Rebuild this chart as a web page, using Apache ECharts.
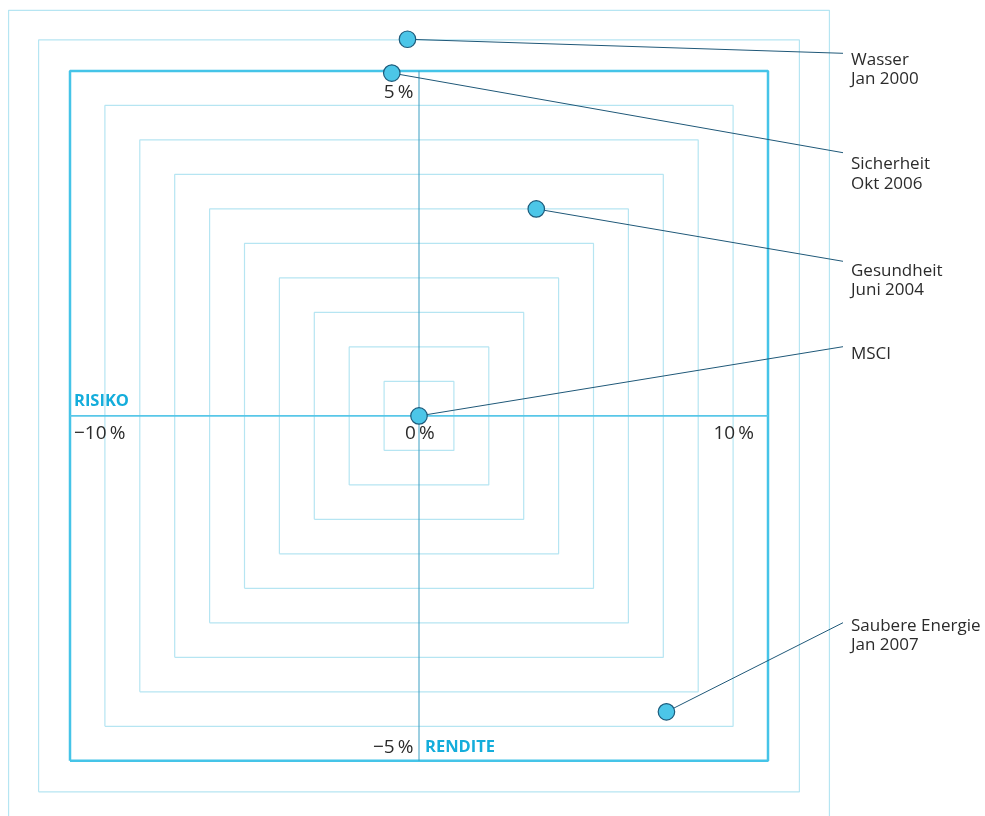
<!DOCTYPE html>
<html><head><meta charset="utf-8">
<script src="https://cdn.jsdelivr.net/npm/echarts@6/dist/echarts.min.js"></script>
<style>html,body{margin:0;padding:0;background:#fff}#c{width:985px;height:816px}</style>
</head><body><div id="c"></div>
<script>
// ---- data ----
const themes = ['Wasser', 'Sicherheit', 'Gesundheit', 'MSCI', 'Saubere Energie'];
const startDates = ['Jan 2000', 'Okt 2006', 'Juni 2004', '', 'Jan 2007'];
const risk = [-0.33, -0.78, 3.36, 0, 7.09];
const rendite = [5.46, 4.97, 3.0, 0, -4.29];
const riskTicks = [-10, 0, 10];
const riskTickLabels = ['\u221210\u2009%', '0\u2009%', '10\u2009%'];
const renditeTicks = [5, -5];
const renditeTickLabels = ['5\u2009%', '\u22125\u2009%'];
const squareLevels = [1, 2, 3, 4, 5, 6, 7, 8, 9, 10, 10.9, 11.76]; // risk half-width; rendite half-height = level/2
const axisNames = ['RISIKO', 'RENDITE'];

// ---- layout / styles ----
const LIGHT = '#b6e5f2', THICK = '#45c4e8', CYAN_TEXT = '#14addb', TEXT = '#2b2b2b', NAVY = '#1f5878';
const FONT = '"Open Sans", Roboto, sans-serif';
const calloutAnchorX = 843, calloutTextX = 851;
const calloutAnchorY = [53.3, 152.7, 261.3, 346.7, 622.7];
const calloutTextY = [60, 164.3, 271, 354.3, 626]; // cap-centre of first line

const chart = echarts.init(document.getElementById('c'));

const squareSeries = squareLevels.map(l => ({
  type: 'line', silent: true, clip: false, symbol: 'none', z: 1, animation: false,
  data: [[-l, -l / 2], [l, -l / 2], [l, l / 2], [-l, l / 2], [-l, -l / 2]],
  lineStyle: { color: l === 10 ? THICK : LIGHT, width: l === 10 ? 2.5 : 1.2 }
}));

const rMin = riskTicks[0], rMax = riskTicks[riskTicks.length - 1];
const yMax = Math.max(...renditeTicks), yMin = Math.min(...renditeTicks);

chart.setOption({
  animation: false,
  grid: { left: 0.2, top: 2, width: 837.6, height: 814 },
  xAxis: { type: 'value', min: -12, max: 12, show: false, splitLine: { show: false } },
  yAxis: { type: 'value', min: -5.8, max: 6, show: false, splitLine: { show: false } },
  series: [
    ...squareSeries,
    { // horizontal axis line (RISIKO)
      type: 'line', silent: true, symbol: 'none', z: 2, clip: false,
      data: [[rMin, 0], [rMax, 0]], lineStyle: { color: '#58c7e8', width: 1.6 }
    },
    { // vertical axis line (RENDITE)
      type: 'line', silent: true, symbol: 'none', z: 2, clip: false,
      data: [[0, yMin], [0, yMax]], lineStyle: { color: '#3a9ec2', width: 1 }
    },
    {
      type: 'scatter', z: 5, symbolSize: 16.5, clip: false,
      data: risk.map((r, i) => ({ name: themes[i], value: [r, rendite[i]] })),
      itemStyle: { color: '#4cc6e8', borderColor: '#1d5a7a', borderWidth: 1.2, opacity: 1 }
    }
  ]
});

const P = (x, y) => chart.convertToPixel({ gridIndex: 0 }, [x, y]);
const g = [];
const txt = (x, y, text, opts) => g.push({
  type: 'text', x, y, z: 10,
  style: Object.assign({ text, fill: TEXT, fontFamily: FONT, fontSize: 19, align: 'left', verticalAlign: 'middle' }, opts || {})
});

// risk tick labels (below horizontal axis)
const riskTickPos = [{ dx: 4, align: 'left' }, { dx: -14, align: 'left' }, { dx: -14, align: 'right' }];
riskTicks.forEach((t, i) => {
  const p = P(t, 0);
  txt(p[0] + riskTickPos[i].dx, p[1] + 17.5, riskTickLabels[i], { align: riskTickPos[i].align });
});
// rendite tick labels (left of vertical axis)
const renditeTickDy = [22, -13.5];
renditeTicks.forEach((t, i) => {
  const p = P(0, t);
  txt(p[0] - 5.5, p[1] + renditeTickDy[i], renditeTickLabels[i], { align: 'right' });
});
// axis names
const pr = P(rMin, 0);
txt(pr[0] + 4, pr[1] - 15, axisNames[0], { fill: CYAN_TEXT, fontWeight: 'bold', fontSize: 16.5 });
const pn = P(0, yMin);
txt(pn[0] + 6, pn[1] - 13.5, axisNames[1], { fill: CYAN_TEXT, fontWeight: 'bold', fontSize: 16.5 });

// callouts
themes.forEach((name, i) => {
  const p = P(risk[i], rendite[i]);
  g.push({
    type: 'line', z: 3, silent: true,
    shape: { x1: p[0], y1: p[1], x2: calloutAnchorX, y2: calloutAnchorY[i] },
    style: { stroke: NAVY, lineWidth: 1 }
  });
  txt(calloutTextX, calloutTextY[i], name, { fontSize: 17 });
  if (startDates[i]) txt(calloutTextX, calloutTextY[i] + 19.5, startDates[i], { fontSize: 17 });
});

chart.setOption({ graphic: g });
</script></body></html>
